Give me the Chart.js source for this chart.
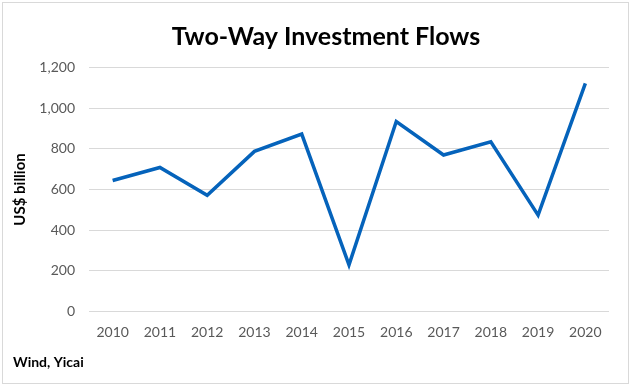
<!DOCTYPE html>
<html>
<head>
<meta charset="utf-8">
<script src="https://cdn.jsdelivr.net/npm/chart.js@4/dist/chart.umd.min.js"></script>
<style>
  html, body { margin: 0; padding: 0; background: #ffffff; }
  #wrap { position: relative; width: 631px; height: 389px; }
  #frame { position: absolute; left: 2px; top: 2px; width: 625px; height: 380px; border: 1px solid #d9d9d9; pointer-events: none; }
  canvas { position: absolute; left: 0; top: 0; }
</style>
</head>
<body>
<div id="wrap">
  <canvas id="c" width="631" height="389"></canvas>
  <div id="frame"></div>
</div>
<script>
const years = ["2010","2011","2012","2013","2014","2015","2016","2017","2018","2019","2020"];
const flows = [644, 708, 571, 787, 872, 230, 934, 769, 834, 474, 1121];
const yTicks = [0, 200, 400, 600, 800, 1000, 1200];
const chartTitle = "Two-Way Investment Flows";
const yAxisTitle = "US$ billion";
const sourceText = "Wind, Yicai";

const FONT = "Lato, 'Open Sans', 'Liberation Sans', sans-serif";

// Shift the title/subtitle blocks so they sit where the original places them.
const blockShift = {
  id: 'blockShift',
  afterLayout(chart) {
    (chart.boxes || []).forEach(b => {
      if (!b.options || b.options.text === undefined) return;
      if (b.options.text === chartTitle) { b.left += 16; b.right += 16; }
      else if (b.options.text === sourceText) { b.left += 2; b.right += 2; }
    });
  }
};

new Chart(document.getElementById('c'), {
  type: 'line',
  data: {
    labels: years,
    datasets: [{
      label: 'Flows',
      data: flows,
      borderColor: '#0563BB',
      backgroundColor: '#0563BB',
      borderWidth: 3.5,
      pointRadius: 0,
      tension: 0,
      fill: false
    }]
  },
  plugins: [blockShift],
  options: {
    responsive: false,
    animation: false,
    layout: { padding: { left: 11, right: 22, top: 0, bottom: 0 } },
    plugins: {
      legend: { display: false },
      tooltip: { enabled: false },
      title: {
        display: true,
        text: chartTitle,
        color: '#000000',
        font: { family: FONT, size: 25, weight: 'bold' },
        padding: { top: 21.5, bottom: 15.8 }
      },
      subtitle: {
        display: true,
        text: sourceText,
        position: 'bottom',
        align: 'start',
        color: '#000000',
        font: { family: FONT, size: 14, weight: 'bold' },
        padding: { top: 2, bottom: 18.6 }
      }
    },
    scales: {
      x: {
        type: 'category',
        offset: true,
        grid: { display: false, drawTicks: false },
        border: { display: false },
        ticks: {
          color: '#595959',
          font: { family: FONT, size: 14 },
          padding: 12,
          maxRotation: 0,
          autoSkip: false
        },
        afterFit: (s) => { s.height = 40; }
      },
      y: {
        min: 0,
        max: 1200,
        grid: { color: '#d9d9d9', lineWidth: 1, drawTicks: false },
        border: { display: false },
        afterBuildTicks: (s) => { s.ticks = yTicks.map(v => ({ value: v })); },
        ticks: {
          color: '#595959',
          font: { family: FONT, size: 14 },
          padding: 14,
          callback: (v) => v.toLocaleString('en-US')
        },
        title: {
          display: true,
          text: yAxisTitle,
          color: '#000000',
          font: { family: FONT, size: 15, weight: 'bold' },
          padding: { top: 0, bottom: 0 }
        },
        afterFit: (s) => { s.width = 78; }
      }
    }
  }
});
</script>
</body>
</html>
